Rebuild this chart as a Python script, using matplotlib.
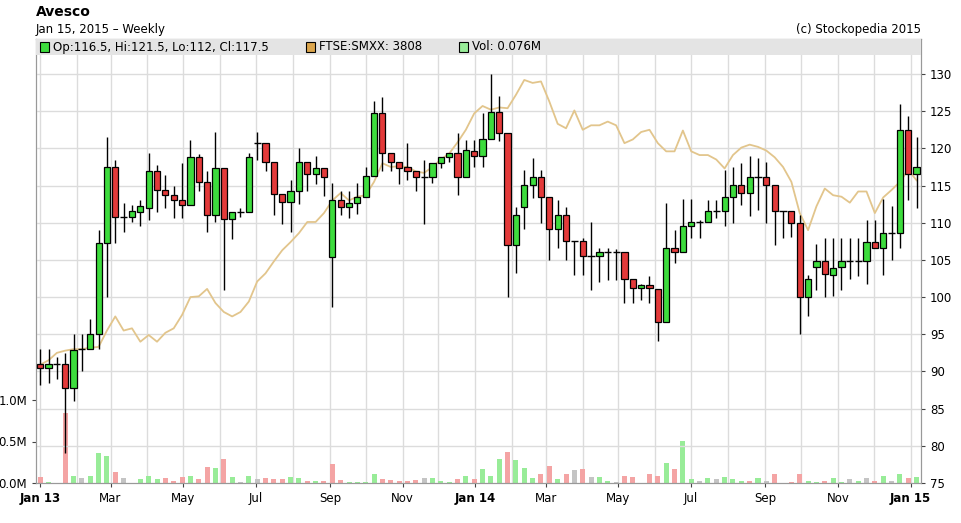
import matplotlib
matplotlib.use("Agg")
import matplotlib.pyplot as plt
import matplotlib.dates as mdates
from matplotlib.patches import Rectangle
import numpy as np
import pandas as pd

# weekly candles, Jan 2013 - Jan 2015
opens = [91, 90.5, 91, 91, 87.8, 93, 93, 95, 107.3, 117.5,
         110.8, 110.8, 111.5, 112, 116.9, 114.4, 113.7, 113, 112.4, 118.8,
         115.5, 111, 117.4, 110.5, 111.5, 111.5, 120.7, 120.7, 118.1, 113.9,
         112.8, 114.2, 118.1, 116.6, 117.4, 105.4, 113, 112.1, 112.6, 113.4,
         116.3, 124.8, 119.4, 118.1, 117.5, 116.9, 116.1, 116.1, 118, 118.8,
         119.4, 116.1, 119.7, 119, 121.2, 124.9, 122, 107, 112.1, 115.1,
         116.1, 113.5, 109.1, 111, 107.6, 107.6, 105.5, 105.5, 106, 106,
         106, 102.4, 101.2, 101.6, 101.1, 96.7, 106.6, 106, 109.6, 110.1,
         110.1, 111.6, 111.6, 113.5, 115.1, 114, 116.1, 116.1, 115.1, 111.6,
         111.6, 110, 100, 104, 104.9, 103, 104, 104.9, 104.9, 104.9,
         107.4, 106.6, 108.6, 108.6, 122.5, 116.5]
highs = [93, 93, 92, 92.5, 95, 95, 97, 109, 121.5, 118.4,
         112.7, 112.4, 113, 119.4, 117.8, 116.4, 115, 118, 121.1, 119.2,
         116.9, 122.2, 117.4, 111.5, 112, 119.4, 122.2, 120.7, 118.1, 113.9,
         115.7, 120.1, 118.1, 119, 117.4, 115.3, 114.3, 114.3, 115.4, 117.5,
         126.4, 126.9, 119.4, 118.1, 120.7, 116.9, 118.4, 118, 118.8, 119.4,
         122, 121.1, 121.1, 124.8, 130, 127, 122, 112.1, 117.1, 118.7,
         117.1, 113.5, 113, 112.1, 107.6, 108, 110.1, 106.6, 106.6, 106.5,
         106, 102.4, 101.8, 102.8, 101.1, 112.6, 109, 113.2, 113.2, 110.3,
         113, 113, 117.1, 117.5, 118, 119, 118.7, 118.1, 115.1, 111.6,
         111.6, 111, 103, 107.2, 108, 108, 108, 108, 108, 110.4,
         110.4, 113.2, 112.3, 126, 124.4, 121.5]
lows = [88.2, 88.5, 89, 79, 86, 90, 93, 93, 100, 107.3,
        108.8, 110.1, 109.5, 110.4, 111.5, 112, 110.6, 110.6, 112.4, 114.2,
        108.8, 110.1, 101, 107.8, 110.8, 111.5, 118.4, 116.9, 111, 109.8,
        108.8, 112.5, 114.2, 115.2, 113.6, 98.7, 111, 110.6, 111.2, 113.4,
        116.3, 116.9, 116.9, 115.2, 115.7, 114.2, 109.8, 115.3, 117.3, 118.1,
        113.7, 117.4, 117.5, 117.5, 121.2, 121, 100, 103.2, 109.1, 113.3,
        110, 105, 106.6, 105, 103, 103, 101, 102, 102.3, 102.3,
        99.2, 99.2, 99.6, 99.2, 94.1, 96.7, 104.6, 106, 108, 108,
        110.1, 110.6, 109.5, 110, 112.4, 110.9, 111.7, 110, 107, 107.9,
        108.1, 95, 97.4, 101, 100, 100.2, 101, 102.4, 102.8, 101.7,
        106.6, 103, 105, 106.6, 113, 112]
closes = [90.5, 91, 91, 87.8, 92.9, 93, 95, 107.3, 117.5, 110.8,
          110.8, 111.6, 112.2, 116.9, 114.4, 113.7, 113, 112.4, 118.8, 115.5,
          111, 117.4, 110.5, 111.5, 111.5, 118.8, 120.7, 118.1, 113.9, 112.8,
          114.2, 118.1, 116.6, 117.4, 116.1, 113, 112.1, 112.6, 113.4, 116.3,
          124.8, 119.4, 118.1, 117.4, 116.9, 116.1, 116.1, 118, 118.8, 119.4,
          116.1, 119.8, 119, 121.2, 124.9, 122, 107, 111, 115.1, 116.1,
          113.5, 109.1, 111, 107.6, 107.6, 105.5, 105.5, 106, 106, 106,
          102.4, 101.2, 101.6, 101.2, 96.7, 106.6, 106, 109.6, 110.1, 110.1,
          111.6, 111.6, 113.5, 115.1, 114, 116.1, 116.1, 115.1, 111.6, 111.6,
          110, 100, 102.4, 104.9, 103.1, 103.9, 104.9, 104.9, 104.9, 107.4,
          106.6, 108.6, 108.6, 122.5, 116.6, 117.5]

# FTSE SmallCap, rebased onto the price scale
ftse = [90.9, 91.5, 92.5, 92.8, 93, 93, 93.2, 93.3, 95.5, 97.4,
        95.5, 95.8, 94, 94.9, 94, 95.2, 95.8, 97.6, 100, 100.1,
        101.1, 99.2, 98, 97.4, 98, 99.4, 102.1, 103.2, 104.8, 106.3,
        107.4, 108.6, 110.1, 110.1, 111.3, 113, 114, 113, 113.5, 113.7,
        115.5, 118, 117.5, 117.6, 117.5, 116.9, 116.7, 117.5, 118.5, 119.3,
        120.8, 122.5, 124.7, 125.7, 125.2, 125.5, 125.4, 127.2, 129.2, 128.8,
        129, 126.3, 123.3, 122.7, 125.1, 122.5, 123.1, 123.1, 123.6, 123.1,
        120.7, 121.2, 122.2, 122.5, 120.7, 119.6, 119.6, 122.4, 119.6, 119.1,
        119.1, 118.5, 117.3, 119.1, 120.1, 120.5, 120.2, 119.7, 118.8, 117.5,
        115.5, 111.3, 109, 112.2, 114.6, 113.7, 113.5, 112.7, 114.2, 114.2,
        111.3, 113.4, 114.4, 115.5, 117.1, 115.7]

# volume in millions, and bar colour code (g up, r down, n flat)
volume = [0.076, 0.016, 0.0, 0.84, 0.088, 0.06, 0.088, 0.36, 0.33, 0.13,
          0.06, 0.0, 0.048, 0.088, 0.048, 0.06, 0.02, 0.076, 0.088, 0.048,
          0.197, 0.18, 0.29, 0.076, 0.016, 0.088, 0.048, 0.06, 0.048, 0.048,
          0.076, 0.06, 0.02, 0.028, 0.02, 0.23, 0.036, 0.016, 0.016, 0.016,
          0.108, 0.048, 0.036, 0.02, 0.02, 0.036, 0.06, 0.06, 0.028, 0.016,
          0.048, 0.088, 0.048, 0.17, 0.088, 0.29, 0.37, 0.28, 0.18, 0.06,
          0.108, 0.21, 0.048, 0.108, 0.157, 0.17, 0.076, 0.076, 0.028, 0.016,
          0.088, 0.076, 0.0, 0.108, 0.088, 0.24, 0.17, 0.51, 0.048, 0.028,
          0.06, 0.048, 0.076, 0.048, 0.028, 0.028, 0.06, 0.028, 0.108, 0.0,
          0.016, 0.108, 0.028, 0.016, 0.028, 0.06, 0.016, 0.048, 0.028, 0.06,
          0.028, 0.088, 0.028, 0.108, 0.06, 0.076]
vol_dir = list("rgnrgngggr" "nngggrrrgr" "rgrgngnrrr" "ggrgrrrggg"
               "grrrrrnggg" "rgrgggrggg" "rrgrnrnggn" "rrrrrgrggn"
               "gngggrgnrr" "rrggrggngn" "rgngrg")

price_ticks = [75, 80, 85, 90, 95, 100, 105, 110, 115, 120, 125, 130]
vol_ticks = [0.0, 0.5, 1.0]
vol_labels = ["0.0M", "0.5M", "1.0M"]
month_labels = ["Jan 13", "Mar", "May", "Jul", "Sep", "Nov",
                "Jan 14", "Mar", "May", "Jul", "Sep", "Nov", "Jan 15"]

dates = pd.Timestamp("2013-01-01") + pd.to_timedelta(np.arange(len(opens)) * 7, unit="D")
x = mdates.date2num(dates)

W, H = 961, 523
fig = plt.figure(figsize=(W / 100, H / 100), dpi=100)
L, R, T, B = 36, 921, 39, 483
axv = fig.add_axes([L / W, 1 - B / H, (R - L) / W, (B - T) / H])
ax = axv.twinx()

# volume (left axis)
vcol = {"g": "#98ec98", "r": "#f4a4a4", "n": "#c4c4c4"}
axv.bar(x, volume, width=4.2, color=[vcol[c] for c in vol_dir], zorder=2)
axv.set_ylim(0, (B - T) / 83.0)
axv.set_yticks(vol_ticks)
axv.set_yticklabels(vol_labels)

# month grid
months = pd.date_range("2013-01-01", "2015-01-01", freq="MS")
for m in months:
    axv.axvline(mdates.date2num(m), color="#dcdcdc", lw=1, zorder=0)
ticks = pd.date_range("2013-01-01", "2015-01-01", freq="2MS")
axv.set_xticks(mdates.date2num(ticks))
axv.set_xticklabels(month_labels, fontsize=8.5)
for lbl in axv.get_xticklabels():
    if lbl.get_text().startswith("Jan"):
        lbl.set_fontweight("bold")
axv.set_xlim(x[0] - 3.5, x[-1] + 3.7)

# price (right axis)
ylo, yhi = 75, 130 + (74 - T) / 7.436
ax.set_ylim(ylo, yhi)
ax.set_yticks(price_ticks)
for p in price_ticks[1:]:
    ax.axhline(p, color="#dcdcdc", lw=1, zorder=0)

ax.plot(x, ftse, color="#e2c58c", lw=1.3, zorder=3)

for xi, o, h, l, c in zip(x, opens, highs, lows, closes):
    ax.vlines(xi, l, h, color="black", lw=1, zorder=4)
    if abs(c - o) < 0.15:
        ax.hlines(o, xi - 3, xi + 3, color="black", lw=1, zorder=5)
        continue
    col = "#3ddc3d" if c > o else "#e33a3a"
    ax.add_patch(Rectangle((xi - 2.6, min(o, c)), 5.2, abs(c - o),
                           facecolor=col, edgecolor="black", lw=0.9, zorder=5))

# legend band
ax.add_patch(Rectangle((0, (B - 55) / (B - T)), 1, 16 / (B - T), transform=ax.transAxes,
                       facecolor="#e4e4e4", edgecolor="none", zorder=6))
band_y = 1 - 8 / (B - T)
for px, col, txt in [(44, "#3ddc3d", "Op:116.5, Hi:121.5, Lo:112, Cl:117.5"),
                     (310, "#dba54c", "FTSE:SMXX: 3808"),
                     (463, "#98ec98", "Vol: 0.076M")]:
    ax.add_patch(Rectangle(((px - L - 4) / (R - L), band_y - 4.5 / (B - T)), 9 / (R - L), 9 / (B - T),
                           transform=ax.transAxes, facecolor=col, edgecolor="black", lw=0.8, zorder=7))
    ax.text((px - L + 9) / (R - L), band_y, txt, transform=ax.transAxes, va="center",
            fontsize=8.5, zorder=7)

for a in (ax, axv):
    a.tick_params(labelsize=8.5, length=3, color="#444444")
    for s in a.spines.values():
        s.set_color("#999999")
ax.set_xlim(axv.get_xlim())

fig.text(L / W, 1 - 12 / H, "Avesco", fontsize=10, fontweight="bold", va="center")
fig.text(L / W, 1 - 29 / H, "Jan 15, 2015 \u2013 Weekly", fontsize=8.5, va="center")
fig.text(R / W, 1 - 29 / H, "(c) Stockopedia 2015", fontsize=8.5, va="center", ha="right")

fig.savefig("out.png", dpi=100)
